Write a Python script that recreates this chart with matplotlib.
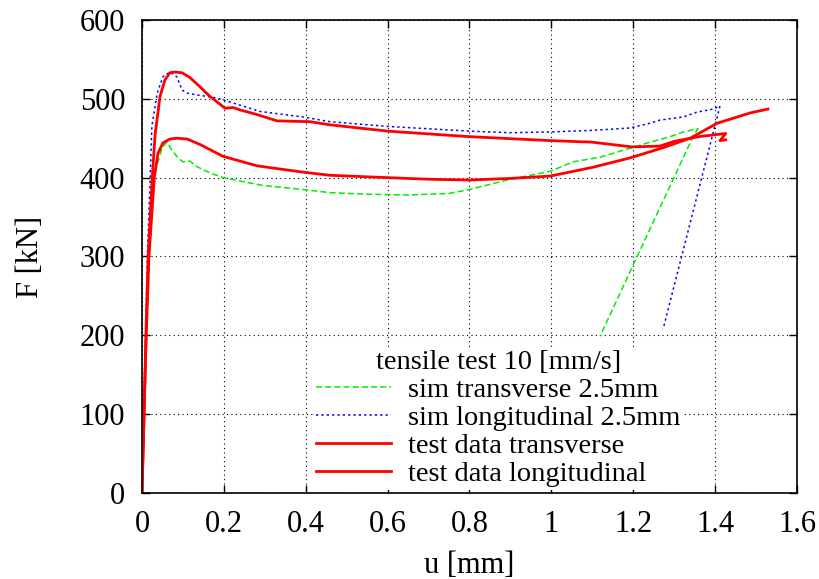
import matplotlib
matplotlib.use("Agg")
import matplotlib.pyplot as plt

plt.rcParams["font.family"] = ["Liberation Serif", "DejaVu Serif"]

# sim transverse 2.5mm (loading + unloading line)
sim_tr_u = [0.0, 0.005, 0.01, 0.016, 0.028, 0.049, 0.061, 0.073, 0.088, 0.1, 0.117, 0.134,
            0.166, 0.198, 0.296, 0.393, 0.459, 0.55, 0.65, 0.75, 0.8, 0.9, 0.997, 1.053,
            1.119, 1.197, 1.241, 1.29, 1.322, 1.358, 1.346, 1.119]
sim_tr_F = [0, 100, 190, 290, 400, 438, 445, 435, 425, 420, 421, 414,
            406, 400, 390, 385, 381, 379, 378, 380, 385, 398, 408, 420,
            426, 438, 445, 452, 458, 462, 452, 199]

# sim longitudinal 2.5mm
sim_lo_u = [0.0, 0.005, 0.009, 0.013, 0.02, 0.024, 0.037, 0.051, 0.068, 0.085, 0.098, 0.112,
            0.134, 0.183, 0.215, 0.288, 0.393, 0.459, 0.6, 0.7, 0.8, 0.9, 0.997, 1.1,
            1.192, 1.241, 1.265, 1.322, 1.355, 1.395, 1.412, 1.273]
sim_lo_F = [0, 100, 200, 300, 400, 465, 507, 528, 534, 528, 511, 507,
            505, 501, 496, 484, 477, 471, 465, 462, 459, 457, 458, 460,
            463, 469, 473, 477, 483, 487, 491, 208]

# test data transverse
test_tr_u = [0.0, 0.005, 0.01, 0.017, 0.03, 0.039, 0.051, 0.068, 0.085, 0.11, 0.142, 0.198,
             0.281, 0.393, 0.459, 0.6, 0.7, 0.8, 0.9, 0.997, 1.1, 1.192, 1.273,
             1.339, 1.405, 1.485, 1.529]
test_tr_F = [0, 100, 195, 300, 400, 431, 444, 449, 450, 449, 442, 427,
             415, 407, 403, 400, 398, 397, 399, 402, 413, 425, 438,
             450, 469, 482, 487]

# test data longitudinal
test_lo_u = [0.0, 0.005, 0.01, 0.015, 0.025, 0.032, 0.044, 0.056, 0.068, 0.08, 0.098, 0.117,
             0.142, 0.166, 0.203, 0.222, 0.239, 0.281, 0.33, 0.41, 0.459, 0.6, 0.8, 0.997,
             1.1, 1.197, 1.265, 1.3, 1.36, 1.426, 1.412, 1.426]
test_lo_F = [0, 100, 210, 300, 400, 455, 503, 524, 533, 534, 533, 527,
             515, 503, 488, 489, 486, 480, 472, 471, 467, 459, 452, 447,
             445, 439, 440, 446, 452, 456, 447, 448]

fig = plt.figure(figsize=(8.19, 5.79), dpi=100)
ax = fig.add_axes([0.1734, 0.1485, 0.7997, 0.817])

ax.plot(sim_tr_u, sim_tr_F, color="#00ee00", linestyle=(0, (4, 2)), linewidth=1.1,
        label="sim transverse 2.5mm")
ax.plot(sim_lo_u, sim_lo_F, color="#0000ff", linestyle=(0, (1.5, 2)), linewidth=1.1,
        label="sim longitudinal 2.5mm")
ax.plot(test_tr_u, test_tr_F, color="#ff0000", linewidth=2.0, label="test data transverse")
ax.plot(test_lo_u, test_lo_F, color="#ff0000", linewidth=2.0, label="test data longitudinal")

ax.set_xlim(0, 1.6)
ax.set_ylim(0, 600)
ax.set_xticks([0, 0.2, 0.4, 0.6, 0.8, 1, 1.2, 1.4, 1.6])
ax.set_xticklabels(["0", "0.2", "0.4", "0.6", "0.8", "1", "1.2", "1.4", "1.6"])
ax.set_yticks(range(0, 601, 100))
ax.tick_params(direction="in", length=6, width=1, top=True, right=True, labelsize=22)
ax.tick_params(axis="x", pad=12)
ax.tick_params(axis="y", pad=12)
ax.grid(True, color="black", linestyle=(0, (1, 3)), linewidth=0.8)
for s in ax.spines.values():
    s.set_linewidth(1.2)

ax.set_xlabel("u [mm]", fontsize=22, labelpad=9)
ax.set_ylabel("F [kN]", fontsize=22, labelpad=25)

leg = ax.legend(loc="lower left", bbox_to_anchor=(0.253, -0.005), fontsize=20.5,
                title="tensile test 10 [mm/s]", title_fontsize=20.5,
                handlelength=2.63, handletextpad=0.6, labelspacing=0.07,
                borderpad=0.1, borderaxespad=0.2, frameon=True, fancybox=False)
leg.get_frame().set_edgecolor("none")
leg.get_frame().set_facecolor("white")
leg.get_frame().set_alpha(1)
leg.set_zorder(2.4)  # keep spine and ticks on top of the white key box

fig.savefig("out.png", dpi=100)
